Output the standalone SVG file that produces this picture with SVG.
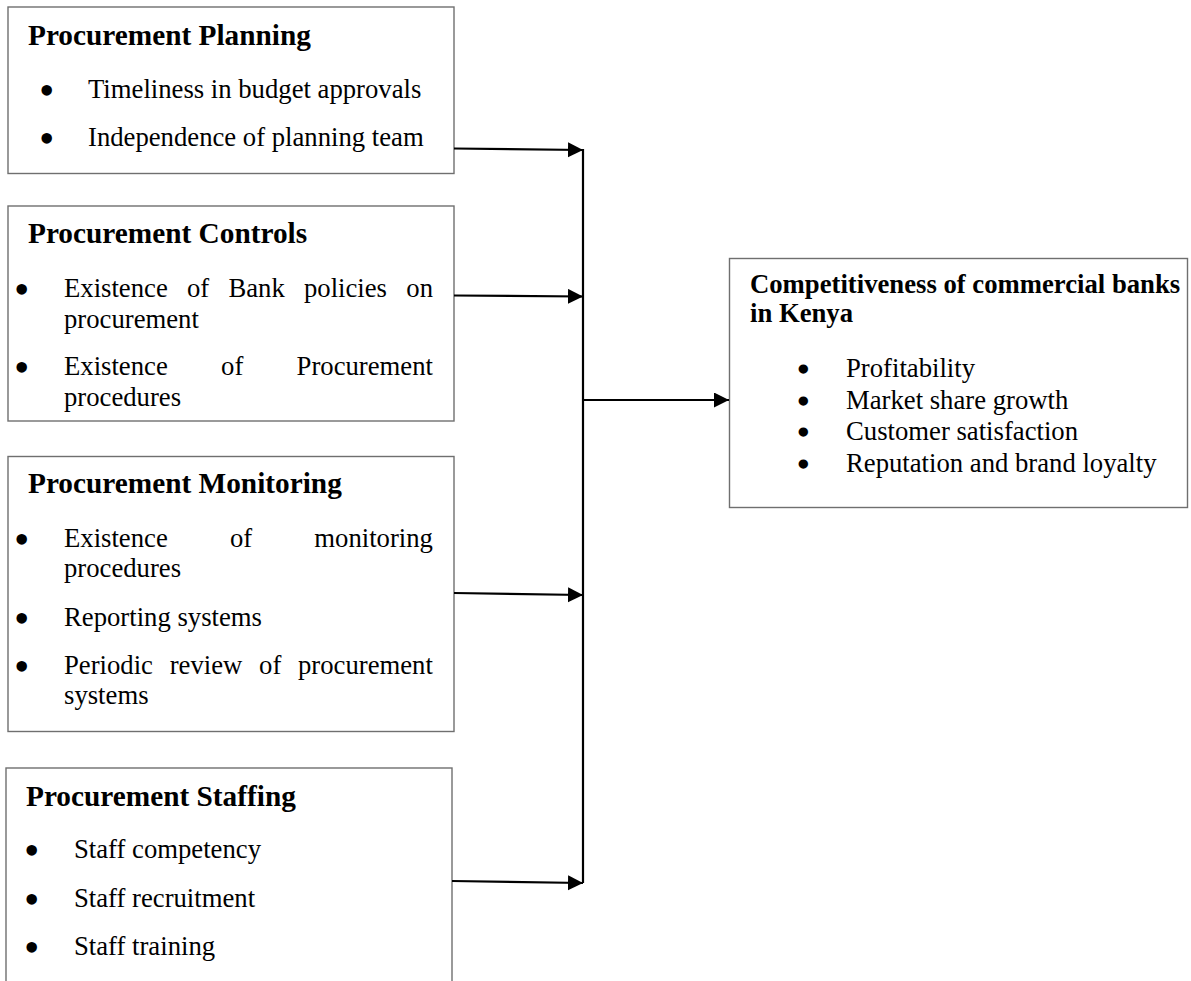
<svg xmlns="http://www.w3.org/2000/svg" width="1191" height="981" viewBox="0 0 1191 981">
<style>
.box{fill:#fff;stroke:#6f6f6f;stroke-width:1.4}
.t{font-family:"Liberation Serif","Times New Roman",serif;font-size:29.3px;font-weight:bold;fill:#000}
.rt{font-family:"Liberation Serif","Times New Roman",serif;font-size:26.7px;font-weight:bold;fill:#000}
.b{font-family:"Liberation Serif","Times New Roman",serif;font-size:26.7px;fill:#000}
.d{font-family:"Liberation Serif","Times New Roman",serif;font-size:44px;fill:#000;text-anchor:middle}
.ds{font-family:"Liberation Serif","Times New Roman",serif;font-size:26px;fill:#000;stroke:#000;stroke-width:3.2;text-anchor:middle}
.c{fill:none;stroke:#000;stroke-width:2.2}
</style>
<defs>
<marker id="ah" markerUnits="userSpaceOnUse" markerWidth="16" markerHeight="16" refX="15" refY="7.5" orient="auto">
<path d="M0,0 L15,7.5 L0,15 z" fill="#000"/>
</marker>
</defs>
<rect width="1191" height="981" fill="#fff"/>
<g id="planning">
<rect class="box" x="8" y="7" width="446" height="166.5"/>
<text class="t" x="28" y="45">Procurement Planning</text>
<text class="d" x="46.7" y="104.5">•</text>
<text class="b" x="88" y="98">Timeliness in budget approvals</text>
<text class="d" x="46.7" y="152.5">•</text>
<text class="b" x="88" y="146">Independence of planning team</text>
</g>
<g id="controls">
<rect class="box" x="8" y="206" width="446" height="215"/>
<text class="t" x="28" y="243">Procurement Controls</text>
<text class="d" x="21.7" y="303.5">•</text>
<text class="b" y="297"><tspan x="64">Existence</tspan><tspan x="187">of</tspan><tspan x="228.4">Bank</tspan><tspan x="304">policies</tspan><tspan x="406.3">on</tspan></text>
<text class="b" x="64" y="328">procurement</text>
<text class="d" x="21.7" y="381.5">•</text>
<text class="b" y="375"><tspan x="64">Existence</tspan><tspan x="221.1">of</tspan><tspan x="296.6">Procurement</tspan></text>
<text class="b" x="64" y="406">procedures</text>
</g>
<g id="monitoring">
<rect class="box" x="8" y="456.5" width="446" height="275"/>
<text class="t" x="28" y="493">Procurement Monitoring</text>
<text class="d" x="21.7" y="553.5">•</text>
<text class="b" y="547"><tspan x="64">Existence</tspan><tspan x="230">of</tspan><tspan x="314.3">monitoring</tspan></text>
<text class="b" x="64" y="577">procedures</text>
<text class="d" x="21.7" y="632.5">•</text>
<text class="b" x="64" y="626">Reporting systems</text>
<text class="d" x="21.7" y="680.5">•</text>
<text class="b" y="674"><tspan x="64">Periodic</tspan><tspan x="169.7">review</tspan><tspan x="259.1">of</tspan><tspan x="298">procurement</tspan></text>
<text class="b" x="64" y="704">systems</text>
</g>
<g id="staffing">
<rect class="box" x="6" y="768" width="446" height="230"/>
<text class="t" x="26" y="806">Procurement Staffing</text>
<text class="d" x="31.7" y="864.5">•</text>
<text class="b" x="74" y="858">Staff competency</text>
<text class="d" x="31.7" y="913.5">•</text>
<text class="b" x="74" y="907">Staff recruitment</text>
<text class="d" x="31.7" y="961.5">•</text>
<text class="b" x="74" y="955">Staff training</text>
</g>
<g id="competitiveness">
<rect class="box" x="729.5" y="258.5" width="458" height="249"/>
<text class="rt" x="750" y="293.3">Competitiveness of commercial banks</text>
<text class="rt" x="750" y="321.7">in Kenya</text>
<text class="ds" x="803.3" y="377.7">•</text>
<text class="b" x="846" y="376.7">Profitability</text>
<text class="ds" x="803.3" y="409.5">•</text>
<text class="b" x="846" y="408.5">Market share growth</text>
<text class="ds" x="803.3" y="441.3">•</text>
<text class="b" x="846" y="440.3">Customer satisfaction</text>
<text class="ds" x="803.3" y="473.2">•</text>
<text class="b" x="846" y="472.2">Reputation and brand loyalty</text>
</g>
<g id="connectors">
<line class="c" x1="583" y1="149" x2="583" y2="883"/>
<path class="c" d="M454,148.5 L583,150" marker-end="url(#ah)"/>
<path class="c" d="M454,295.5 L583,296.5" marker-end="url(#ah)"/>
<path class="c" d="M454,593 L583,595" marker-end="url(#ah)"/>
<path class="c" d="M452,881 L583,883" marker-end="url(#ah)"/>
<path class="c" d="M583,400 L729,400" marker-end="url(#ah)"/>
</g>
</svg>
